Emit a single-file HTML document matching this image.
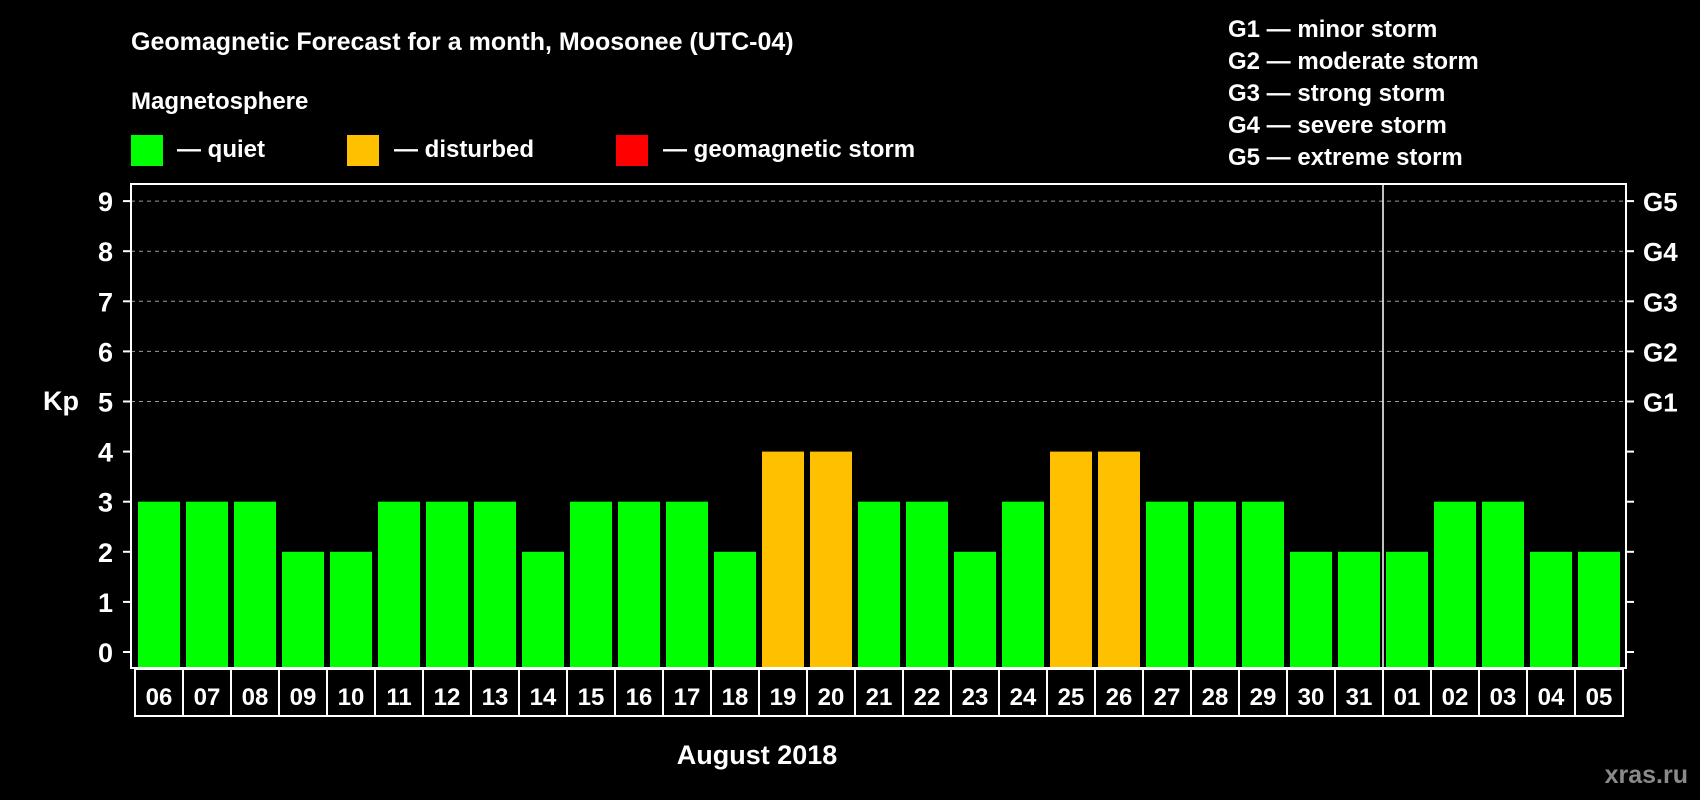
<!DOCTYPE html>
<html><head><meta charset="utf-8"><style>
html,body{margin:0;padding:0;background:#000;width:1700px;height:800px;overflow:hidden}
svg{display:block;font-family:"Liberation Sans",Arial,sans-serif;font-weight:bold}
</style></head><body>
<svg id="chart" width="1700" height="800" viewBox="0 0 1700 800">
<rect x="0" y="0" width="1700" height="800" fill="#000"/>
<text x="131" y="50" fill="#fff" font-size="25">Geomagnetic Forecast for a month, Moosonee (UTC-04)</text>
<text x="131" y="109" fill="#fff" font-size="24">Magnetosphere</text>
<rect x="131" y="135" width="32" height="31" fill="#00ff00"/>
<text x="177" y="157" fill="#fff" font-size="24">— quiet</text>
<rect x="347" y="135" width="32" height="31" fill="#ffc000"/>
<text x="394" y="157" fill="#fff" font-size="24">— disturbed</text>
<rect x="616" y="135" width="32" height="31" fill="#ff0000"/>
<text x="663" y="157" fill="#fff" font-size="24">— geomagnetic storm</text>
<g fill="#fff" font-size="24">
<text x="1228" y="37">G1 — minor storm</text>
<text x="1228" y="69">G2 — moderate storm</text>
<text x="1228" y="101">G3 — strong storm</text>
<text x="1228" y="133">G4 — severe storm</text>
<text x="1228" y="165">G5 — extreme storm</text>
</g>
<text x="43" y="410" fill="#fff" font-size="27">Kp</text>
<text x="757" y="764" fill="#fff" font-size="27" text-anchor="middle">August 2018</text>
<text x="1688" y="783" fill="#8a8a8a" font-size="25" text-anchor="end">xras.ru</text>
<g id="plot"></g>
</svg>
<script>
const days = ["06","07","08","09","10","11","12","13","14","15","16","17","18","19","20","21","22","23","24","25","26","27","28","29","30","31","01","02","03","04","05"];
const kpValues = [3,3,3,2,2,3,3,3,2,3,3,3,2,4,4,3,3,2,3,4,4,3,3,3,2,2,2,3,3,2,2];
const yTicks = [0,1,2,3,4,5,6,7,8,9];
const gLabels = ["G1","G2","G3","G4","G5"];
const gLevels = [5,6,7,8,9];
const monthBreakIndex = 26;

const NS = "http://www.w3.org/2000/svg";
const plot = document.getElementById('plot');
const L = 131, R = 1626, T = 184, B = 668;
const cellX0 = 135, cellW = 48;
function y(v){ return 652 - v * 50.1; }
function x(i){ return cellX0 + i * cellW; }
function mk(tag, attrs){ const e = document.createElementNS(NS, tag); for (const k in attrs) e.setAttribute(k, attrs[k]); plot.appendChild(e); return e; }
function color(v){ return v >= 5 ? "#ff0000" : (v >= 4 ? "#ffc000" : "#00ff00"); }

// gridlines
gLevels.forEach((lv, i) => {
  const g = mk('line', {x1:L, x2:R, y1:y(lv), y2:y(lv), stroke:"#9a9a9a", "stroke-width":1, "stroke-dasharray":"4,4"});
  
  
  const t = mk('text', {x:1643, y:y(lv)+10, fill:"#fff", "font-size":26});
  t.textContent = gLabels[i];
  
  
});

// bars
kpValues.forEach((v, i) => {
  const b = mk('rect', {x:x(i)+3, y:y(v), width:42, height:B - y(v), fill:color(v)});
  
  
});

// frame
const fr = mk('rect', {x:L, y:T, width:R-L, height:B-T, fill:"none", stroke:"#fff", "stroke-width":2});


const sep = mk('line', {x1:x(monthBreakIndex), x2:x(monthBreakIndex), y1:T, y2:B, stroke:"#fff", "stroke-width":1.5});



// y ticks
yTicks.forEach(v => {
  const tl = mk('line', {x1:L-8, x2:L, y1:y(v), y2:y(v), stroke:"#fff", "stroke-width":2});
  
  
  const tr = mk('line', {x1:R, x2:R+8, y1:y(v), y2:y(v), stroke:"#fff", "stroke-width":2});
  
  
  const t = mk('text', {x:113, y:y(v)+10, fill:"#fff", "font-size":27, "text-anchor":"end"});
  t.textContent = v;
  
  
});

// date cells
days.forEach((d, i) => {
  const c = mk('rect', {x:x(i), y:669, width:cellW, height:47, fill:"#000", stroke:"#fff", "stroke-width":2});
  
  
  const t = mk('text', {x:x(i)+cellW/2, y:705, fill:"#fff", "font-size":24, "text-anchor":"middle"});
  t.textContent = d;
  
  
});
</script>
</body></html>
